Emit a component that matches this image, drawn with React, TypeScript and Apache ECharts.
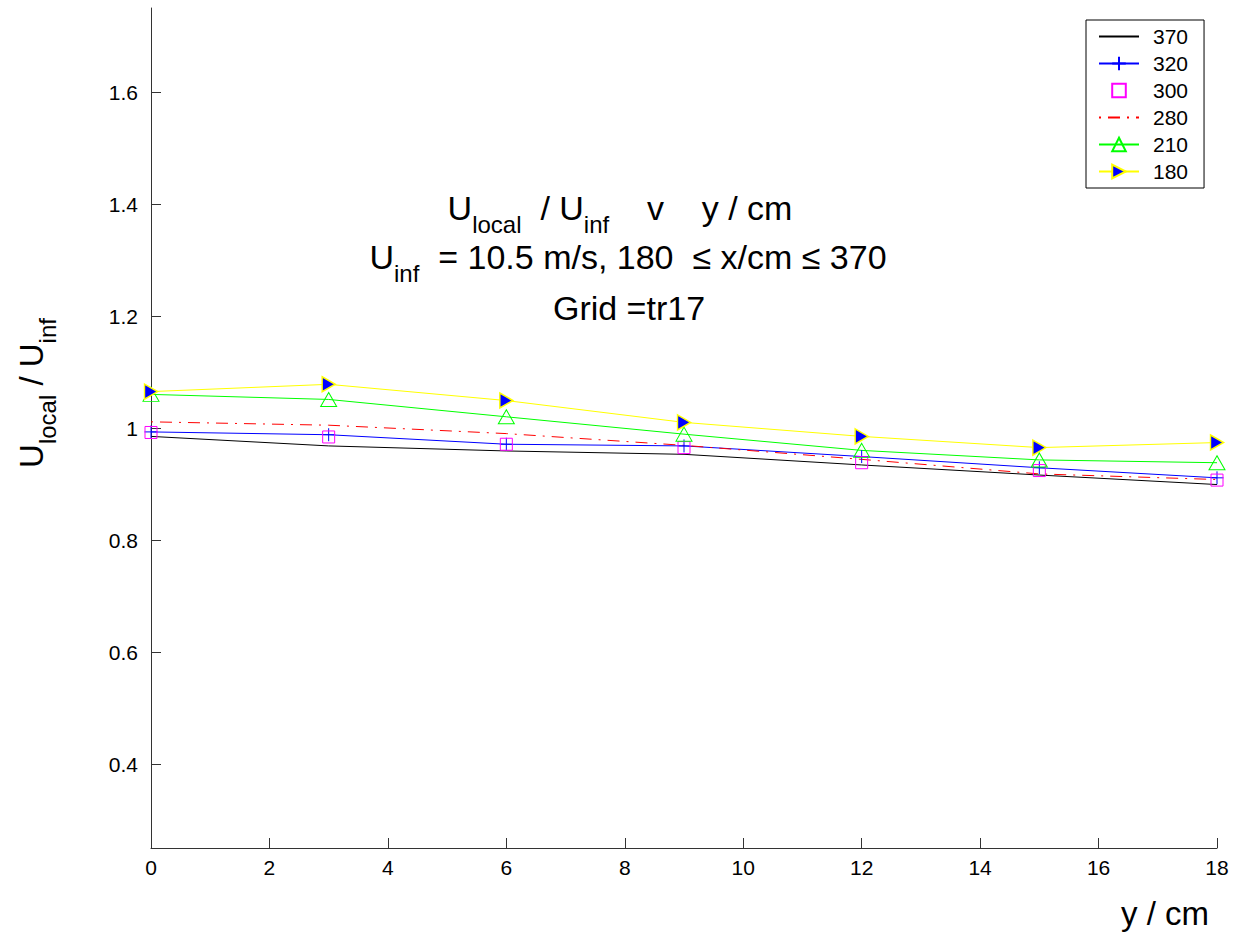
import React, { useEffect, useRef } from "react";
import * as echarts from "echarts";

// Stations along the span (y / cm)
const yPositions = [0, 3, 6, 9, 12, 15, 18];

// U_local / U_inf at each downstream station x / cm
const u370 = [0.985, 0.968, 0.959, 0.953, 0.934, 0.916, 0.899];
const u320 = [0.993, 0.988, 0.971, 0.968, 0.949, 0.929, 0.911];
const u300 = [0.992, 0.984, 0.971, 0.965, 0.938, 0.924, 0.907];
const u280 = [1.011, 1.005, 0.99, 0.969, 0.944, 0.918, 0.908];
const u210 = [1.06, 1.051, 1.02, 0.989, 0.96, 0.943, 0.938];
const u180 = [1.065, 1.078, 1.049, 1.01, 0.985, 0.965, 0.974];

const yTicks = [0.4, 0.6, 0.8, 1.0, 1.2, 1.4, 1.6];
const seriesNames = ["370", "320", "300", "280", "210", "180"];

const FONT = "'Liberation Sans', Arial, Helvetica, sans-serif";

const pairs = (vals: number[]) => yPositions.map((x, i) => [x, vals[i]]);

// subscript token: a negative bottom padding pushes the glyphs down
// without enlarging the line box
const subStyle = (size: number, drop: number) => ({
  fontSize: size,
  fontFamily: FONT,
  padding: [0, 0, -2 * drop, 0],
});

export default function App() {
  const ref = useRef<HTMLDivElement>(null);

  useEffect(() => {
    if (!ref.current) return;
    const chart = echarts.init(ref.current, null, { renderer: "svg" });

    const textLine = (x: number, y: number, text: string, size: number, extra: any = {}) => ({
      type: "text",
      x,
      y,
      ...extra,
      style: {
        text,
        rich: { s: subStyle(Math.round(size * 0.72), 16) },
        fontSize: size,
        fontFamily: FONT,
        fill: "#000",
        align: "center",
        verticalAlign: "middle",
      },
    });

    chart.setOption({
      animation: false,
      backgroundColor: "#ffffff",
      textStyle: { fontFamily: FONT },
      grid: { left: 151, right: 17, top: 8, bottom: 85, containLabel: false },
      xAxis: {
        type: "value",
        min: 0,
        max: 18,
        interval: 2,
        axisLine: { show: true, onZero: false, lineStyle: { color: "#333", width: 1 } },
        axisTick: { show: true, inside: true, length: 10, lineStyle: { color: "#333" } },
        axisLabel: { color: "#000", fontSize: 21, fontFamily: FONT, margin: 9 },
        splitLine: { show: false },
      },
      yAxis: {
        type: "value",
        min: 0.25,
        max: 1.75,
        axisLine: { show: true, onZero: false, lineStyle: { color: "#333", width: 1 } },
        axisTick: {
          show: true,
          inside: true,
          length: 10,
          customValues: yTicks,
          lineStyle: { color: "#333" },
        },
        axisLabel: {
          color: "#000",
          fontSize: 21,
          fontFamily: FONT,
          margin: 13,
          customValues: yTicks,
          formatter: (v: number) => String(Number(v.toFixed(1))),
        },
        splitLine: { show: false },
      },
      legend: {
        data: seriesNames,
        orient: "vertical",
        left: 1086,
        top: 20,
        itemWidth: 40,
        itemHeight: 17,
        itemGap: 6,
        padding: [6, 16, 6, 12],
        borderColor: "#000",
        borderWidth: 1,
        backgroundColor: "#fff",
        textStyle: { color: "#000", fontSize: 21, fontFamily: FONT, padding: [0, 0, 0, 9] },
      },
      series: [
        {
          name: seriesNames[0],
          type: "line",
          data: pairs(u370),
          symbol: "none",
          lineStyle: { color: "#000000", width: 1 },
          itemStyle: { color: "none" },
        },
        {
          name: seriesNames[1],
          type: "line",
          data: pairs(u320),
          symbol: "path://M5,0L5,10M0,5L10,5",
          symbolSize: 13,
          lineStyle: { color: "#0000ff", width: 1 },
          itemStyle: { color: "none", borderColor: "#0000ff", borderWidth: 1 },
        },
        {
          name: seriesNames[2],
          type: "line",
          data: pairs(u300),
          symbol: "rect",
          symbolSize: 12,
          lineStyle: { color: "#ff00ff", width: 0, opacity: 0 },
          itemStyle: { color: "none", borderColor: "#ff00ff", borderWidth: 1 },
        },
        {
          name: seriesNames[3],
          type: "line",
          data: pairs(u280),
          symbol: "none",
          lineStyle: { color: "#ff0000", width: 1, type: [12, 7, 2, 7], dashOffset: 19 },
          itemStyle: { color: "none" },
        },
        {
          name: seriesNames[4],
          type: "line",
          data: pairs(u210),
          symbol: "triangle",
          symbolSize: [16, 14],
          lineStyle: { color: "#00ff00", width: 1 },
          itemStyle: { color: "none", borderColor: "#00ff00", borderWidth: 1 },
        },
        {
          name: seriesNames[5],
          type: "line",
          data: pairs(u180),
          symbol: "path://M0,0L10,5L0,10Z",
          symbolSize: [13, 15],
          lineStyle: { color: "#ffff00", width: 1 },
          itemStyle: { color: "#0000ff", borderColor: "#ffff00", borderWidth: 1.5 },
        },
      ],
      graphic: [
        textLine(620, 208, "U{s|local}  / U{s|inf}    v    y / cm", 34),
        textLine(628, 257, "U{s|inf}  = 10.5 m/s, 180  \u2264 x/cm \u2264 370", 34),
        textLine(629, 308, "Grid =tr17", 34),
        textLine(31, 393, "U{s|local} / U{s|inf}", 33, { rotation: Math.PI / 2 }),
        textLine(1165, 913, "y / cm", 33),
      ],
    });

    return () => chart.dispose();
  }, []);

  return (
    <div
      ref={ref}
      style={{ position: "fixed", left: 0, top: 0, width: 1234, height: 933, background: "#fff" }}
    />
  );
}
